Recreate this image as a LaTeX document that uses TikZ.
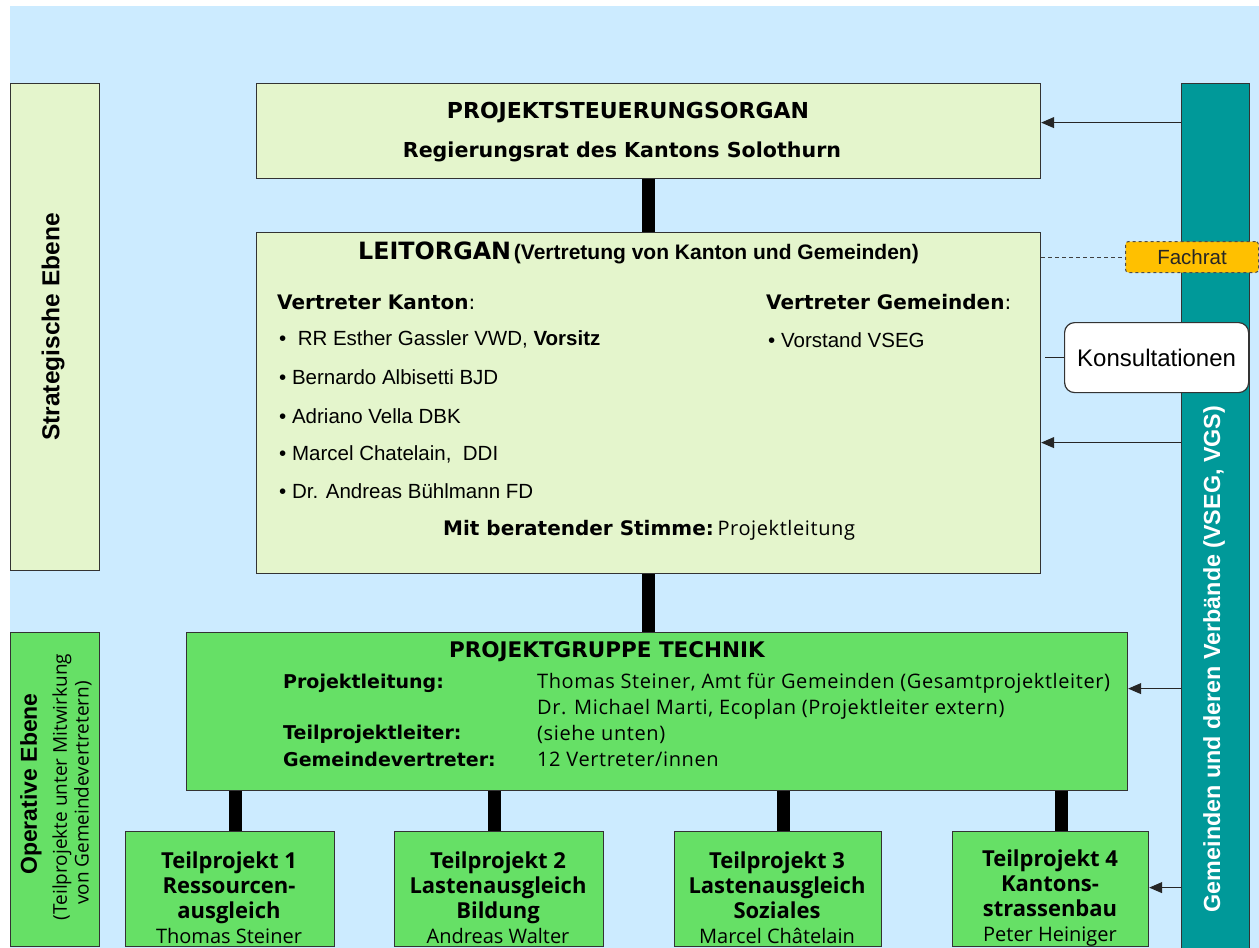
\documentclass[tikz,border=0pt]{standalone}
\usepackage{fontspec}
\setmainfont{Liberation Sans}
\newfontfamily\fru{Open Sans}
\newfontfamily\frus[LetterSpace=3]{Open Sans}
\newfontfamily\dvs{DejaVu Sans}
\usetikzlibrary{arrows.meta,calc}
\definecolor{bgblue}{HTML}{CCEBFF}
\definecolor{paleg}{HTML}{E4F5CC}
\definecolor{brightg}{HTML}{66E066}
\definecolor{tealbar}{HTML}{009999}
\definecolor{fachorange}{HTML}{FFC000}
\newcommand{\fsz}[1]{\fontsize{#1}{#1}\selectfont}
\begin{document}
\begin{tikzpicture}[x=1pt,y=-1pt,
  pbox/.style={draw=black!80, line width=1.2pt, fill=paleg, inner sep=0pt, anchor=north west},
  gbox/.style={draw=black!80, line width=1.2pt, fill=brightg, inner sep=0pt, anchor=north west},
  bar/.style={line width=13pt, draw=black},
  arr/.style={draw=black!85, line width=1pt, -{Triangle[length=13pt,width=11pt]}},
  txt/.style={inner sep=0pt, anchor=west},
  tptext/.style={inner sep=0pt, align=center, font=\fru\bfseries\fontsize{22}{25}\selectfont}
]
\useasboundingbox (0,0) rectangle (1259,948);
\fill[white] (0,0) rectangle (1259,948);
\fill[bgblue] (10,6) rectangle (1259,948);

% level boxes
\node[pbox, minimum width=89, minimum height=487] (se) at (10,83) {};
\node[gbox, minimum width=89, minimum height=314] (oe) at (10,632) {};
\node[rotate=90, font=\bfseries\fsz{24.5}, inner sep=0pt] (setxt) at (53,327) {Strategische Ebene};
\node[rotate=90, font=\bfseries\fsz{23}, inner sep=0pt] (oetxt1) at (31,784) {Operative Ebene};
\node[rotate=90, font=\fru\fsz{19}, inner sep=0pt] (oetxt2) at (62,787) {(Teilprojekte unter Mitwirkung};
\node[rotate=90, font=\fru\fsz{19}, inner sep=0pt] (oetxt3) at (83,793) {von Gemeindevertretern)};

% main boxes
\node[pbox, minimum width=784, minimum height=95] (ps) at (256,83) {};
\node[pbox, minimum width=784, minimum height=341] (lo) at (256,232) {};
\node[gbox, minimum width=941, minimum height=158] (pg) at (186,632) {};
\node[gbox, minimum width=209, minimum height=115] (tp1) at (125,831) {};
\node[gbox, minimum width=209, minimum height=115] (tp2) at (394,831) {};
\node[gbox, minimum width=207, minimum height=115] (tp3) at (674,831) {};
\node[gbox, minimum width=196, minimum height=115] (tp4) at (952,831) {};
\node[draw=black!80, line width=1.2pt, fill=tealbar, inner sep=0pt, anchor=north west,
      minimum width=68, minimum height=868] (gv) at (1181,83) {};
\node[rotate=90, font=\bfseries\fsz{23.3}, text=white, inner sep=0pt] (gvtxt) at (1214,659)
  {Gemeinden und deren Verbände (VSEG, VGS)};

% Projektsteuerungsorgan text
\node[font=\dvs\bfseries\fsz{22}, inner sep=0pt] (pst1) at (628,113) {PROJEKTSTEUERUNGSORGAN};
\node[font=\dvs\bfseries\fsz{20.6}, inner sep=0pt] (pst2) at (622,152) {Regierungsrat des Kantons Solothurn};

% Leitorgan text
\node[txt] (lot1) at (358,253) {{\dvs\bfseries\fsz{23.8}LEITORGAN} {\bfseries\fsz{21}(Vertretung von Kanton und Gemeinden)}};
\node[txt, font=\dvs\bfseries\fsz{20}] (lok) at (277,302) {Vertreter Kanton{\mdseries :}};
\node[txt, font=\dvs\bfseries\fsz{20}] (log) at (766,302) {Vertreter Gemeinden{\mdseries :}};
\node[txt, font=\fsz{20.5}] (lob1) at (279,339) {\textbullet\ \ RR Esther Gassler VWD, \textbf{Vorsitz}};
\node[txt, font=\fsz{20.5}] (lob2) at (279,377) {\textbullet\ Bernardo Albisetti BJD};
\node[txt, font=\fsz{20.5}] (lob3) at (279,416) {\textbullet\ Adriano Vella DBK};
\node[txt, font=\fsz{20.5}] (lob4) at (279,454) {\textbullet\ Marcel Chatelain,\ \ DDI};
\node[txt, font=\fsz{20.5}] (lob5) at (279,491) {\textbullet\ Dr. Andreas Bühlmann FD};
\node[txt, font=\fsz{20.5}] (lob6) at (768,340) {\textbullet\ Vorstand VSEG};
\node[txt] (lom) at (443,530) {{\dvs\bfseries\fsz{20}Mit beratender Stimme:} {\frus\fsz{20}Projektleitung}};

% Projektgruppe text
\node[font=\dvs\bfseries\fsz{21.5}, inner sep=0pt] (pgt) at (607,652) {PROJEKTGRUPPE TECHNIK};
\node[txt, font=\dvs\bfseries\fsz{19}] (pgl1) at (283,683) {Projektleitung:};
\node[txt, font=\dvs\bfseries\fsz{19}] (pgl2) at (283,734) {Teilprojektleiter:};
\node[txt, font=\dvs\bfseries\fsz{19}] (pgl3) at (283,759) {Gemeindevertreter:};
\node[txt, font=\frus\fsz{20}] (pgr1) at (537,683) {Thomas Steiner, Amt für Gemeinden (Gesamtprojektleiter)};
\node[txt, font=\frus\fsz{20}] (pgr2) at (537,709) {Dr. Michael Marti, Ecoplan (Projektleiter extern)};
\node[txt, font=\frus\fsz{20}] (pgr3) at (537,734) {(siehe unten)};
\node[txt, font=\frus\fsz{20}] (pgr4) at (537,759) {12 Vertreter/innen};

% Teilprojekt texts
\node[tptext] (tp1t) at (229,898) {Teilprojekt 1\\Ressourcen-\\ausgleich\\{\mdseries\fontsize{20}{25}\selectfont Thomas Steiner}};
\node[tptext] (tp2t) at (498,898) {Teilprojekt 2\\Lastenausgleich\\Bildung\\{\mdseries\fontsize{20}{25}\selectfont Andreas Walter}};
\node[tptext] (tp3t) at (777,898) {Teilprojekt 3\\Lastenausgleich\\Soziales\\{\mdseries\fontsize{20}{25}\selectfont Marcel Châtelain}};
\node[tptext] (tp4t) at (1050,898) {Teilprojekt 4\\Kantons-\\strassenbau\\{\mdseries\fontsize{20}{25}\selectfont Peter Heiniger}};

% side elements
\node[draw=black!70, dashed, fill=fachorange, rounded corners=3pt, line width=1pt, inner sep=0pt,
      anchor=north west, minimum width=133, minimum height=31, font=\fsz{20.5}, text=black!85] (fr) at (1125,241) {Fachrat};
\node[draw=black!80, fill=white, rounded corners=10pt, line width=1.2pt, inner sep=0pt,
      anchor=north west, minimum width=184, minimum height=70, font=\fsz{24}] (ko) at (1064,322) {Konsultationen};

% connectors (thick bars)
\draw[bar] (ps.south) -- (lo.north);
\draw[bar] (lo.south) -- (lo.south |- pg.north);
\coordinate (c1) at ([xshift=5.5pt]tp1.north);
\coordinate (c2) at ([xshift=-5pt]tp2.north);
\coordinate (c3) at ([xshift=5pt]tp3.north);
\coordinate (c4) at ([xshift=11pt]tp4.north);
\draw[bar] (c1 |- pg.south) -- (c1);
\draw[bar] (c2 |- pg.south) -- (c2);
\draw[bar] (c3 |- pg.south) -- (c3);
\draw[bar] (c4 |- pg.south) -- (c4);

% arrows from the Gemeinden bar
\coordinate (a1) at ([yshift=8.5pt]ps.east);
\coordinate (a2) at ([yshift=-39.5pt]lo.east);
\coordinate (a3) at ([yshift=23pt]pg.east);
\coordinate (a4) at ([yshift=1.5pt]tp4.east);
\draw[arr] (a1 -| gv.west) -- (a1);
\draw[arr] (a2 -| gv.west) -- (a2);
\draw[arr] (a3 -| gv.west) -- (a3);
\draw[arr] (a4 -| gv.west) -- (a4);

% Fachrat and Konsultationen links
\draw[draw=black!75, line width=0.9pt, dash pattern=on 4pt off 3pt] (lo.east |- fr.west) -- (fr.west);
\coordinate (kl) at ([xshift=-19pt]ko.west);
\draw[draw=black!85, line width=1pt] (ko.west) -- (kl);
\end{tikzpicture}
\end{document}
